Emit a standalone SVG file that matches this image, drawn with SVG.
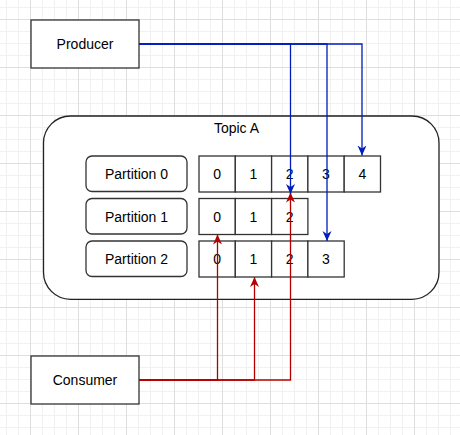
<svg xmlns="http://www.w3.org/2000/svg" width="460" height="435" viewBox="0 0 460 435">
<style>
.box{fill:#fff;stroke:#333;stroke-width:1.3}
.cell{fill:#fff;stroke:#333;stroke-width:1.3}
.t{font-family:"Liberation Sans",Arial,sans-serif;font-size:14px;fill:#000;text-anchor:middle}
.blue{fill:none;stroke:#001DBC;stroke-width:1.3}
.red{fill:none;stroke:#B20000;stroke-width:1.3}
</style>
<defs>
<pattern id="grid" patternUnits="userSpaceOnUse" x="30" y="19" width="48" height="48">
<path d="M12.5,0V48M24.5,0V48M36.5,0V48M0,12.5H48M0,24.5H48M0,36.5H48" stroke="#f1f1f1" stroke-width="1" fill="none"/>
<path d="M0.5,0V48M0,0.5H48" stroke="#dedede" stroke-width="1" fill="none"/>
</pattern>
<marker id="ab" markerUnits="userSpaceOnUse" viewBox="0 0 10 10" refX="10" refY="5" markerWidth="10" markerHeight="10" orient="auto">
<path d="M0,0.5L10,5L0,9.5L3,5Z" fill="#001DBC"/>
</marker>
<marker id="ar" markerUnits="userSpaceOnUse" viewBox="0 0 10 10" refX="10" refY="5" markerWidth="10" markerHeight="10" orient="auto">
<path d="M0,0.5L10,5L0,9.5L3,5Z" fill="#B20000"/>
</marker>
</defs>
<rect width="460" height="435" fill="#fff"/>
<rect width="460" height="435" fill="url(#grid)"/>

<g id="producer">
<rect class="box" x="31" y="20" width="108" height="48"/>
<text class="t" x="85" y="49">Producer</text>
</g>
<g id="consumer">
<rect class="box" x="31" y="356" width="108" height="48"/>
<text class="t" x="85" y="385">Consumer</text>
</g>
<g id="topicA">
<rect x="43.5" y="116" width="395.5" height="183.3" rx="27" ry="27" fill="#fff" stroke="#222" stroke-width="1.3"/>
<text class="t" x="236.5" y="133">Topic A</text>
</g>
<g id="partition0">
<rect class="box" x="86" y="156" width="101" height="35.5" rx="6"/>
<text class="t" x="136.5" y="179">Partition 0</text>
</g>
<g id="partition1">
<rect class="box" x="86" y="198.5" width="101" height="35.5" rx="6"/>
<text class="t" x="136.5" y="221.5">Partition 1</text>
</g>
<g id="partition2">
<rect class="box" x="86" y="241" width="101" height="35.5" rx="6"/>
<text class="t" x="136.5" y="264">Partition 2</text>
</g>
<g id="p0cells">
<rect class="cell" x="199" y="156" width="36.3" height="36"/>
<rect class="cell" x="235.3" y="156" width="36.3" height="36"/>
<rect class="cell" x="271.6" y="156" width="36.3" height="36"/>
<rect class="cell" x="307.9" y="156" width="36.3" height="36"/>
<rect class="cell" x="344.2" y="156" width="36.3" height="36"/>
<text class="t" x="217.1" y="179">0</text>
<text class="t" x="253.4" y="179">1</text>
<text class="t" x="289.7" y="179">2</text>
<text class="t" x="326" y="179">3</text>
<text class="t" x="362.3" y="179">4</text>
</g>
<g id="p1cells">
<rect class="cell" x="199" y="198.5" width="36.3" height="36"/>
<rect class="cell" x="235.3" y="198.5" width="36.3" height="36"/>
<rect class="cell" x="271.6" y="198.5" width="36.3" height="36"/>
<text class="t" x="217.1" y="221.5">0</text>
<text class="t" x="253.4" y="221.5">1</text>
<text class="t" x="289.7" y="221.5">2</text>
</g>
<g id="p2cells">
<rect class="cell" x="199" y="241" width="36.3" height="36"/>
<rect class="cell" x="235.3" y="241" width="36.3" height="36"/>
<rect class="cell" x="271.6" y="241" width="36.3" height="36"/>
<rect class="cell" x="307.9" y="241" width="36.3" height="36"/>
<text class="t" x="217.1" y="264">0</text>
<text class="t" x="253.4" y="264">1</text>
<text class="t" x="289.7" y="264">2</text>
<text class="t" x="326" y="264">3</text>
</g>
<g id="connectors">
<path class="red" d="M139,380H217.5V234.5" marker-end="url(#ar)"/>
<path class="red" d="M139,380H254.5V277" marker-end="url(#ar)"/>
<path class="red" d="M139,380H290.5V192.5" marker-end="url(#ar)"/>
<path class="blue" d="M139,44H290.5V194" marker-end="url(#ab)"/>
<path class="blue" d="M139,44H327V241" marker-end="url(#ab)"/>
<path class="blue" d="M139,44H362V155.5" marker-end="url(#ab)"/>
</g>
</svg>
